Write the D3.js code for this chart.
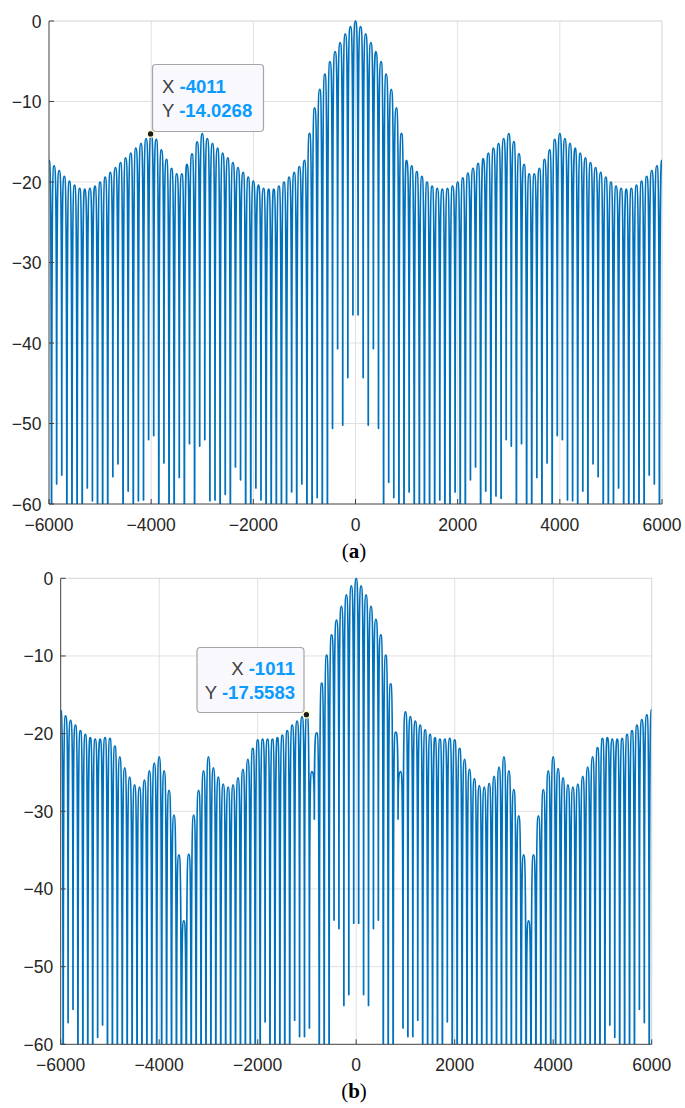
<!DOCTYPE html>
<html>
<head>
<meta charset="utf-8">
<script src="https://cdn.jsdelivr.net/npm/d3@7"></script>
<style>
    body { margin: 0; background: #fff; }
    svg { display: block; }
    text { font-family: "Liberation Sans", Arial, sans-serif; }
</style>
</head>
<body>
<div id="chart"></div>
<script>
const WIDTH = 685;
const HEIGHT = 1108;

// === DATA ===
const xTicks = [-6000, -4000, -2000, 0, 2000, 4000, 6000];
const yTicks = [-60, -50, -40, -30, -20, -10, 0];

// lobe peaks at -6000, -5900, ... 6000 (dB)
const peaksA = [
    -17.3, -18.0, -18.6, -19.3, -19.9, -20.4, -20.8, -20.9, -20.8, -20.5,
    -20.0, -19.4, -18.8, -18.2, -17.6, -17.0, -16.4, -15.8, -15.2, -14.6,
    -14.03, -14.7, -16.0, -17.2, -18.3, -19.0, -19.0, -17.8, -16.5, -15.0,
    -14.0, -14.6, -15.2, -15.8, -16.4, -17.0, -17.6, -18.2, -18.8, -19.4,
    -19.9, -20.4, -20.8, -20.9, -20.9, -20.5, -20.0, -19.4, -18.8, -18.1,
    -17.3, -13.95, -10.8, -8.5, -6.6, -5.05, -3.8, -2.7, -1.6, -0.7,
    0,
    -0.7, -1.6, -2.7, -3.8, -5.05, -6.6, -8.5, -10.8, -13.95, -17.3,
    -18.0, -18.7, -19.3, -20.0, -20.5, -20.8, -20.9, -20.8, -20.5, -20.0,
    -19.5, -18.9, -18.3, -17.7, -17.1, -16.4, -15.8, -15.2, -14.6, -14.0,
    -15.0, -16.5, -17.8, -19.0, -19.0, -18.3, -17.2, -16.0, -14.7, -14.0,
    -14.6, -15.2, -15.8, -16.4, -17.0, -17.6, -18.2, -18.8, -19.4, -20.0,
    -20.5, -20.8, -20.9, -20.8, -20.4, -19.9, -19.3, -18.6, -18.0, -17.3
];

// nulls at -5950, -5850, ... 5950 (dB); -80 = below the axis
const nullsA = [
    -80, -57.5, -56.4, -80, -80, -80, -80, -58.0, -59.6, -80,
    -80, -80, -56.6, -55.0, -80, -58.4, -80, -59.6, -59.5, -52.0,
    -51.5, -80, -54.9, -80, -80, -56.7, -80, -52.5, -80, -52.8,
    -52.0, -59.6, -59.5, -80, -58.8, -80, -55.4, -57.0, -80, -80,
    -58.0, -59.5, -80, -80, -80, -80, -80, -58.5, -80, -57.5,
    -80, -80, -59.2, -80, -80, -50.6, -40.7, -50.2, -44.3, -36.5,
    -36.5, -44.3, -50.2, -40.7, -50.6, -80, -57.3, -59.2, -80, -80,
    -58.5, -80, -80, -80, -80, -80, -59.5, -80, -80, -58.5,
    -80, -80, -57.0, -55.4, -80, -58.4, -80, -59.0, -59.3, -52.0,
    -52.8, -80, -52.5, -80, -80, -56.7, -80, -54.9, -80, -51.5,
    -52.0, -59.5, -59.6, -80, -58.4, -80, -55.0, -56.6, -80, -80,
    -80, -58.0, -80, -80, -80, -80, -80, -56.4, -57.5, -80
];

const peaksB = [
    -17.0, -17.7, -18.3, -18.9, -19.6, -20.1, -20.5, -20.7, -20.7, -20.5,
    -20.6, -21.6, -23.0, -24.4, -25.6, -26.6, -26.9, -26.0, -24.8, -23.8,
    -23.0, -24.8, -27.3, -30.5, -35.6, -44.1, -35.5, -30.5, -27.3, -24.8,
    -23.0, -24.4, -25.6, -26.5, -26.9, -26.6, -25.7, -24.6, -23.3, -21.9,
    -20.8, -20.7, -20.7, -20.7, -20.5, -20.2, -19.6, -18.9, -18.4, -17.8,
    -17.56, -24.9, -19.9, -13.5, -9.9, -7.3, -5.4, -3.6, -2.15, -0.99,
    0,
    -0.99, -2.15, -3.6, -5.3, -7.3, -9.9, -13.6, -19.8, -24.9, -17.2,
    -17.8, -18.4, -18.9, -19.5, -20.1, -20.5, -20.7, -20.7, -20.6, -20.8,
    -21.9, -23.3, -24.6, -25.8, -26.7, -26.9, -26.4, -25.5, -24.3, -23.0,
    -24.8, -27.2, -30.6, -35.6, -44.1, -35.6, -30.6, -27.2, -24.8, -23.0,
    -24.5, -25.7, -26.6, -26.9, -26.5, -25.5, -24.3, -23.0, -21.8, -20.6,
    -20.5, -20.7, -20.7, -20.6, -20.1, -19.6, -18.9, -18.2, -17.6, -16.9
];

const nullsB = [
    -80, -57.2, -55.5, -80, -80, -80, -80, -59.1, -57.5, -80,
    -80, -80, -80, -80, -80, -80, -80, -80, -80, -80,
    -80, -80, -80, -80, -80, -80, -80, -80, -80, -80,
    -80, -80, -80, -80, -80, -80, -80, -80, -80, -80,
    -80, -57.1, -80, -80, -80, -80, -80, -56.9, -59.0, -59.0,
    -57.9, -31.0, -80, -80, -80, -44.0, -45.1, -55.0, -53.6, -44.4,
    -44.4, -53.6, -55.0, -45.1, -44.0, -80, -80, -80, -31.0, -57.9,
    -59.0, -59.0, -56.9, -80, -80, -80, -80, -80, -57.1, -80,
    -80, -80, -80, -80, -80, -80, -80, -80, -80, -80,
    -80, -80, -80, -80, -80, -80, -80, -80, -80, -80,
    -80, -80, -80, -80, -80, -80, -80, -80, -80, -80,
    -80, -57.5, -59.1, -80, -80, -80, -80, -55.5, -57.2, -80
];

// data tips [x, y]
const tipA = [-4011, -14.0268];
const tipB = [-1011, -17.5583];

// === LAYOUT ===
const panels = [
    {
        peaks: peaksA, nulls: nullsA, tip: tipA, caption: "a",
        left: 49, right: 662, top: 21, bottom: 504,
        box: { x: 152.5, y: 64.5, w: 111, h: 67 },
        tipText: { x: 162, y: 93, anchor: "start" }
    },
    {
        peaks: peaksB, nulls: nullsB, tip: tipB, caption: "b",
        left: 60.7, right: 651.7, top: 578.3, bottom: 1044.3,
        box: { x: 197, y: 647.5, w: 107, h: 65 },
        tipText: { x: 295, y: 674.5, anchor: "end" }
    }
];

const svg = d3.select("#chart")
    .append("svg")
    .attr("width", WIDTH)
    .attr("height", HEIGHT);

svg.append("rect").attr("width", WIDTH).attr("height", HEIGHT).attr("fill", "#fff");

// lobe curve: rounded at the peaks, vertical at the nulls
function curveLobe(context) {
    let pts;
    return {
        areaStart() {},
        areaEnd() {},
        lineStart() { pts = []; },
        point(x, y) { pts.push([+x, +y]); },
        lineEnd() {
            if (!pts.length) return;
            context.moveTo(pts[0][0], pts[0][1]);
            for (let i = 1; i < pts.length; i++) {
                const [x0, y0] = pts[i - 1];
                const [x1, y1] = pts[i];
                const mx = (x0 + x1) / 2;
                if (y0 < y1) context.bezierCurveTo(mx, y0, x1, y0, x1, y1);
                else context.bezierCurveTo(x0, y1, mx, y1, x1, y1);
            }
        }
    };
}

function lobePoints(peaks, nulls) {
    const pts = [];
    peaks.forEach((p, i) => {
        pts.push({ x: -6000 + i * 100, y: p });
        if (i < nulls.length) pts.push({ x: -5950 + i * 100, y: nulls[i] });
    });
    return pts;
}

const fmt = d3.format("d");

// === DRAW PANEL ===
function drawPanel(cfg, idx) {
    const x = d3.scaleLinear().domain([-6000, 6000]).range([cfg.left, cfg.right]);
    const y = d3.scaleLinear().domain([-60, 0]).range([cfg.bottom, cfg.top]);
    const g = svg.append("g");

    // grid
    g.selectAll(".gx")
        .data(xTicks.slice(1, -1))
        .enter().append("line")
        .attr("x1", d => x(d)).attr("x2", d => x(d))
        .attr("y1", cfg.top).attr("y2", cfg.bottom)
        .attr("stroke", "#e0e0e0").attr("stroke-width", 1);

    g.selectAll(".gy")
        .data(yTicks.slice(1, -1))
        .enter().append("line")
        .attr("x1", cfg.left).attr("x2", cfg.right)
        .attr("y1", d => y(d)).attr("y2", d => y(d))
        .attr("stroke", "#e0e0e0").attr("stroke-width", 1);

    // top + right border
    g.append("path")
        .attr("d", `M${cfg.left},${cfg.top}H${cfg.right}V${cfg.bottom}`)
        .attr("fill", "none")
        .attr("stroke", "#d4d4d4");

    // curve
    const clipId = "clip" + idx;
    svg.append("clipPath").attr("id", clipId)
        .append("rect")
        .attr("x", cfg.left).attr("y", cfg.top - 2)
        .attr("width", cfg.right - cfg.left)
        .attr("height", cfg.bottom - cfg.top + 2);

    const line = d3.line()
        .x(d => x(d.x))
        .y(d => y(d.y))
        .curve(curveLobe);

    g.append("path")
        .datum(lobePoints(cfg.peaks, cfg.nulls))
        .attr("clip-path", `url(#${clipId})`)
        .attr("d", line)
        .attr("fill", "none")
        .attr("stroke", "#0072bd")
        .attr("stroke-width", 1.75)
        .attr("stroke-linejoin", "round");

    // axes
    g.append("path")
        .attr("d", `M${cfg.left},${cfg.top}V${cfg.bottom}H${cfg.right}`)
        .attr("fill", "none")
        .attr("stroke", "#404040");

    g.selectAll(".ty")
        .data(yTicks)
        .enter().append("line")
        .attr("x1", cfg.left).attr("x2", cfg.left + 5)
        .attr("y1", d => y(d)).attr("y2", d => y(d))
        .attr("stroke", "#404040");

    g.selectAll(".tx")
        .data(xTicks)
        .enter().append("line")
        .attr("x1", d => x(d)).attr("x2", d => x(d))
        .attr("y1", cfg.bottom).attr("y2", cfg.bottom - 5)
        .attr("stroke", "#404040");

    g.selectAll(".ly")
        .data(yTicks)
        .enter().append("text")
        .attr("x", cfg.left - 7.5)
        .attr("y", d => y(d) + 6.5)
        .attr("text-anchor", "end")
        .attr("fill", "#262626")
        .style("font-size", "17.5px")
        .text(d => fmt(d));

    g.selectAll(".lx")
        .data(xTicks)
        .enter().append("text")
        .attr("x", d => x(d))
        .attr("y", cfg.bottom + 26.5)
        .attr("text-anchor", "middle")
        .attr("fill", "#262626")
        .style("font-size", "17.5px")
        .text(d => fmt(d));

    // caption
    const cap = g.append("text")
        .attr("x", 354)
        .attr("y", cfg.bottom + 54)
        .attr("text-anchor", "middle")
        .attr("fill", "#000")
        .style("font-family", "'Liberation Serif', 'DejaVu Serif', serif")
        .style("font-size", "21px");
    cap.append("tspan").text("(");
    cap.append("tspan").style("font-weight", "bold").text(cfg.caption);
    cap.append("tspan").text(")");

    // data tip
    g.append("rect")
        .attr("x", cfg.box.x).attr("y", cfg.box.y)
        .attr("width", cfg.box.w).attr("height", cfg.box.h)
        .attr("rx", 3.5)
        .attr("fill", "#f8f8fd")
        .attr("stroke", "#a6a6a6")
        .attr("stroke-width", 1.2);

    const rows = [["X", cfg.tip[0]], ["Y", cfg.tip[1]]];
    rows.forEach((r, i) => {
        const t = g.append("text")
            .attr("x", cfg.tipText.x)
            .attr("y", cfg.tipText.y + i * 24)
            .attr("text-anchor", cfg.tipText.anchor)
            .style("font-size", "18.5px")
            .style("white-space", "pre");
        t.append("tspan").attr("fill", "#404040").text(r[0] + " ");
        t.append("tspan").attr("fill", "#0a9bff").style("font-weight", "bold").text(String(r[1]));
    });

    g.append("circle")
        .attr("cx", x(cfg.tip[0]))
        .attr("cy", y(cfg.tip[1]))
        .attr("r", 3.3)
        .attr("fill", "#1a1a1a")
        .attr("stroke", "#fff6c4")
        .attr("stroke-width", 1.3);
}

panels.forEach(drawPanel);
</script>
</body>
</html>
